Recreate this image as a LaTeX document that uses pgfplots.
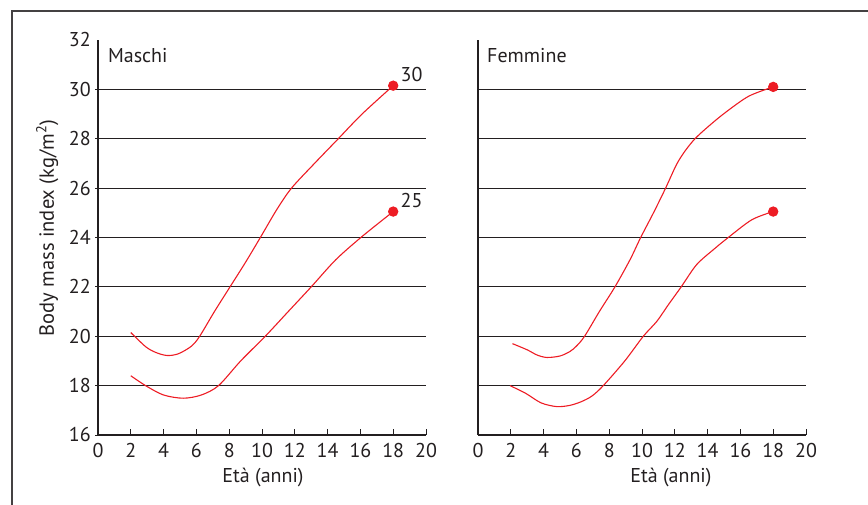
\documentclass[border=0pt]{standalone}
\usepackage{pgfplots}
\pgfplotsset{compat=1.18}
\usepackage{fontspec}
\setmainfont{PT Sans}
\definecolor{bmired}{HTML}{ED1C24}
\definecolor{ink}{HTML}{231F20}
\newcommand{\lblfont}{\fontsize{20}{22}\selectfont}
\pgfplotsset{
  panel/.style={
    scale only axis, width=328pt, height=395pt,
    anchor=south west,
    xmin=0, xmax=20, ymin=16, ymax=32,
    axis x line*=bottom, axis y line*=left,
    axis line style={ink, line width=1.1pt, -},
    xtick={0,2,...,20},
    major tick length=5.5pt,
    x tick style={ink, line width=0.9pt},
    y tick style={ink, line width=0.9pt},
    xtick align=inside, ytick align=center,
    tick label style={font=\lblfont, text=ink},
    /pgf/number format/assume math mode=true,
    xticklabel style={yshift=-5pt},
    yticklabel style={xshift=-1pt},
    label style={font=\lblfont, text=ink},
    every axis plot/.append style={bmired, line width=1.1pt},
    clip=false,
  },
}
\begin{document}
\begin{tikzpicture}
\path[use as bounding box] (0pt,0pt) rectangle (868pt,505pt);
\draw[ink!85, line width=1.2pt] (12pt,0pt) -- (12pt,494pt) -- (868pt,494pt);

% ---------- Maschi ----------
\begin{axis}[panel, at={(98pt,70pt)},
  ytick={16,18,...,30},
  extra y ticks={32},
  extra y tick style={y tick style={draw=none}},
  xlabel={Età (anni)},
  xlabel style={at={(axis description cs:0.503,0)}, anchor=center, yshift=-43pt},
  ylabel={Body mass index (kg/m\textsuperscript{2})},
  ylabel style={at={(axis description cs:-0.155,0.524)}, anchor=center, font=\fontsize{20.5}{22}\selectfont},
]
\foreach \g in {18,20,...,30}{\edef\tmp{\noexpand\draw[ink, line width=1.1pt] (axis cs:0,\g) -- (axis cs:20,\g);}\tmp}
\addplot[smooth, tension=0.5] coordinates {
(2,20.15)(2.9,19.58)(3.5,19.35)(4.2,19.22)(4.9,19.29)(5.7,19.6)(6.2,20.0)(7.1,21.0)(8.05,22.0)(9.0,23.0)(9.9,24.0)(10.9,25.13)(11.8,26.0)(13.2,27.0)(14.65,28.0)(16.1,29.0)(18,30.15)};
\addplot[smooth, tension=0.5] coordinates {
(2,18.4)(2.9,18.0)(4,17.62)(5.2,17.49)(6.3,17.62)(7.35,18.0)(8.7,19.0)(10.2,20.0)(11.6,21.0)(13.0,22.0)(14.5,23.1)(16.1,24.04)(18,25.05)};
\addplot[only marks, mark=*, mark size=4.6pt, bmired] coordinates {(18,30.15)(18,25.05)};
\node[anchor=base west, text=ink, font=\lblfont] at (axis cs:18,30.15) [xshift=4pt, yshift=4pt] {30};
\node[anchor=base west, text=ink, font=\lblfont] at (axis cs:18,25.05) [xshift=4pt, yshift=4pt] {25};
\node[anchor=west, text=ink, font=\lblfont, inner sep=0pt] at (axis cs:0.6,31.35) {Maschi};
\end{axis}

% ---------- Femmine ----------
\begin{axis}[panel, at={(478pt,70pt)},
  ytick=\empty,
  xlabel={Età (anni)},
  xlabel style={at={(axis description cs:0.588,0)}, anchor=center, yshift=-43pt},
]
\foreach \g in {18,20,...,30}{\edef\tmp{\noexpand\draw[ink, line width=1.1pt] (axis cs:0,\g) -- (axis cs:20,\g);}\tmp}
\addplot[smooth, tension=0.5] coordinates {
(2.1,19.7)(3.0,19.45)(3.6,19.24)(4.2,19.14)(5.0,19.2)(5.6,19.38)(6.0,19.6)(6.5,20.0)(7.4,21.0)(8.35,22.0)(9.27,23.1)(9.92,24.0)(10.7,25.0)(11.44,26.0)(12.1,26.95)(12.62,27.5)(13.23,28.0)(14.05,28.5)(15.06,29.05)(16.5,29.72)(18,30.1)};
\addplot[smooth, tension=0.5] coordinates {
(1.95,18.0)(2.9,17.69)(3.85,17.3)(4.8,17.15)(5.6,17.2)(6.3,17.35)(6.95,17.58)(7.64,18.0)(8.95,19.0)(10.08,20.0)(10.9,20.6)(11.6,21.27)(12.39,22.0)(13.33,22.9)(14.43,23.55)(15.26,24.0)(16.7,24.72)(18,25.05)};
\addplot[only marks, mark=*, mark size=4.6pt, bmired] coordinates {(18,30.1)(18,25.05)};
\node[anchor=west, text=ink, font=\lblfont, inner sep=0pt] at (axis cs:0.55,31.35) {Femmine};
\end{axis}
\end{tikzpicture}
\end{document}
